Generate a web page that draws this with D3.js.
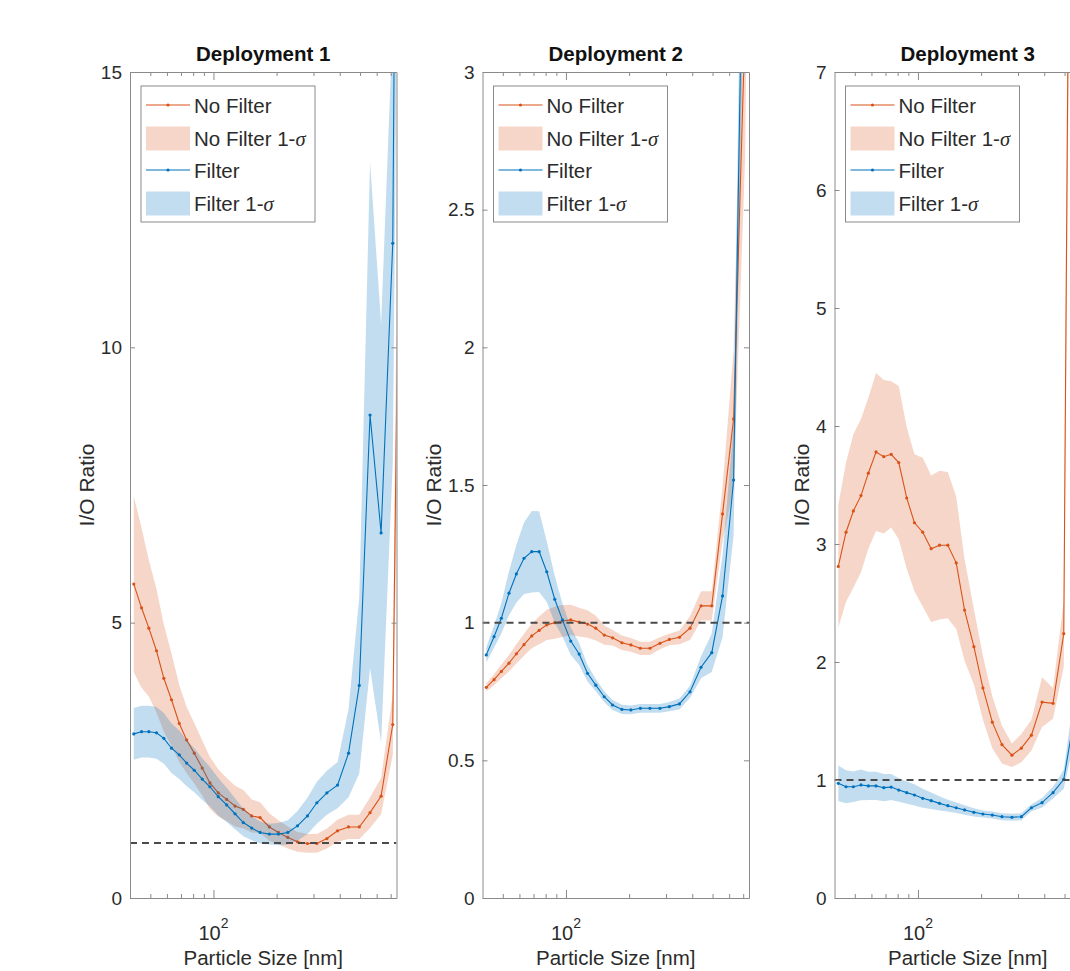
<!DOCTYPE html>
<html><head><meta charset="utf-8">
<script src="https://cdn.jsdelivr.net/npm/d3@7"></script>
<style>
body{margin:0;background:#fff;}
text{font-family:"Liberation Sans",Arial,Helvetica,sans-serif;}
</style>
</head><body>
<svg id="chart" width="1070" height="971"></svg>
<script>
// ---------- data ----------
const sizes = [41.7, 45.4, 49.2, 53.5, 58.0, 63.1, 68.7, 74.5, 81.0, 88.4, 96.2, 105.4, 115.6, 126.7, 138.8, 152.2, 166.8, 184.8, 204.0, 226.2, 251.5, 280.6, 311.2, 347.5, 390.5, 440.6, 495.7, 558, 630, 716, 810];

const titles = ["Deployment 1", "Deployment 2", "Deployment 3"];
const seriesNames = ["No Filter", "No Filter 1-", "Filter", "Filter 1-"];

const d1NoFilter   = [5.70, 5.27, 4.90, 4.49, 3.99, 3.60, 3.17, 2.87, 2.63, 2.36, 2.09, 1.91, 1.79, 1.67, 1.61, 1.49, 1.46, 1.29, 1.19, 1.10, 1.02, 0.99, 0.99, 1.08, 1.22, 1.29, 1.29, 1.55, 1.85, 3.15, 20];
const d1NoFilterSd = [1.6, 1.45, 1.24, 1.12, 0.97, 0.84, 0.7, 0.6, 0.55, 0.5, 0.47, 0.43, 0.39, 0.37, 0.35, 0.3, 0.28, 0.25, 0.22, 0.2, 0.18, 0.17, 0.17, 0.18, 0.2, 0.22, 0.22, 0.28, 0.33, 0.55, 5];
const d1Filter     = [2.98, 3.02, 3.02, 3.00, 2.90, 2.72, 2.60, 2.45, 2.32, 2.16, 2.02, 1.84, 1.69, 1.53, 1.37, 1.27, 1.19, 1.16, 1.16, 1.19, 1.31, 1.49, 1.73, 1.91, 2.05, 2.63, 3.86, 8.77, 6.63, 11.89, 40];
const d1FilterSd   = [0.47, 0.47, 0.47, 0.47, 0.46, 0.45, 0.44, 0.42, 0.4, 0.38, 0.36, 0.34, 0.31, 0.28, 0.25, 0.22, 0.2, 0.19, 0.2, 0.22, 0.27, 0.33, 0.38, 0.4, 0.42, 0.8, 1.6, 4.6, 3.8, 4.0, 10];

const d2NoFilter   = [0.765, 0.793, 0.823, 0.853, 0.887, 0.920, 0.952, 0.972, 0.992, 1.000, 1.006, 1.010, 1.002, 0.995, 0.980, 0.955, 0.945, 0.927, 0.919, 0.907, 0.907, 0.925, 0.939, 0.947, 0.980, 1.061, 1.061, 1.395, 1.74, 3.2, 8];
const d2NoFilterSd = [0.015, 0.02, 0.025, 0.03, 0.035, 0.04, 0.045, 0.05, 0.055, 0.058, 0.058, 0.055, 0.052, 0.05, 0.045, 0.035, 0.028, 0.026, 0.025, 0.024, 0.024, 0.022, 0.021, 0.025, 0.043, 0.053, 0.053, 0.1, 0.25, 0.5, 1];
const d2Filter     = [0.883, 0.949, 1.016, 1.107, 1.177, 1.234, 1.258, 1.258, 1.185, 1.085, 1.010, 0.933, 0.886, 0.816, 0.773, 0.731, 0.701, 0.685, 0.683, 0.689, 0.689, 0.689, 0.695, 0.705, 0.749, 0.838, 0.891, 1.097, 1.518, 4.1, 10];
const d2FilterSd   = [0.027, 0.04, 0.055, 0.08, 0.105, 0.13, 0.148, 0.147, 0.11, 0.085, 0.06, 0.05, 0.04, 0.03, 0.022, 0.02, 0.018, 0.017, 0.016, 0.016, 0.016, 0.016, 0.017, 0.02, 0.022, 0.04, 0.07, 0.15, 0.2, 0.5, 1];

const d3NoFilter   = [2.81, 3.10, 3.28, 3.41, 3.60, 3.78, 3.74, 3.76, 3.69, 3.39, 3.18, 3.10, 2.96, 2.99, 2.99, 2.84, 2.44, 2.13, 1.78, 1.49, 1.30, 1.21, 1.27, 1.38, 1.66, 1.65, 2.24, 15];
const d3NoFilterSd = [0.52, 0.59, 0.65, 0.65, 0.64, 0.67, 0.65, 0.62, 0.65, 0.6, 0.58, 0.63, 0.62, 0.63, 0.62, 0.56, 0.43, 0.32, 0.27, 0.22, 0.16, 0.1, 0.12, 0.13, 0.21, 0.13, 0.28, 2];
const d3Filter     = [0.972, 0.943, 0.943, 0.958, 0.95, 0.95, 0.935, 0.94, 0.915, 0.893, 0.873, 0.845, 0.825, 0.802, 0.782, 0.765, 0.746, 0.726, 0.712, 0.703, 0.689, 0.684, 0.689, 0.765, 0.808, 0.893, 1.006, 1.55];
const d3FilterSd   = [0.15, 0.14, 0.13, 0.13, 0.12, 0.12, 0.115, 0.11, 0.1, 0.095, 0.09, 0.08, 0.07, 0.06, 0.05, 0.045, 0.04, 0.035, 0.03, 0.03, 0.03, 0.03, 0.03, 0.03, 0.04, 0.05, 0.08, 0.2];

const yMax = [15, 3, 7];
const yTicks1 = [0, 5, 10, 15];
const yTicks2 = [0, 0.5, 1, 1.5, 2, 2.5, 3];
const yTicks3 = [0, 1, 2, 3, 4, 5, 6, 7];
const xDomain = [40, 746];
const xMajorTicks = [100];
const xMinorTicks = [50, 60, 70, 80, 90, 200, 300, 400, 500, 600, 700];
const refLine = [1];
const xLabel = "Particle Size [nm]";
const yLabel = "I/O Ratio";

// ---------- layout / style ----------
const plotLefts = [130, 482.5, 834.5];
const plotW = 266.5, plotTop = 72, plotBottom = 898;
const cOrange = "#D95319", cBlue = "#0072BD";
const fillAlpha = 0.24;
const axisColor = "#8a8a8a", textColor = "#2b2b2b";

const panels = [
  {nf: d1NoFilter, nfs: d1NoFilterSd, f: d1Filter, fs: d1FilterSd, yt: yTicks1},
  {nf: d2NoFilter, nfs: d2NoFilterSd, f: d2Filter, fs: d2FilterSd, yt: yTicks2},
  {nf: d3NoFilter, nfs: d3NoFilterSd, f: d3Filter, fs: d3FilterSd, yt: yTicks3}
];

const svg = d3.select("#chart");
const defs = svg.append("defs");

function styleAxis(g) {
  g.selectAll("path.domain").attr("stroke", axisColor).attr("stroke-width", 1);
  g.selectAll(".tick line").attr("stroke", axisColor).attr("stroke-width", 1);
  g.selectAll(".tick text").attr("fill", textColor).attr("font-size", 19)
    .attr("font-family", '"Liberation Sans", Arial, sans-serif');
  g.attr("font-family", null).attr("font-size", null);
}

panels.forEach((p, i) => {
  const left = plotLefts[i];
  const x = d3.scaleLog().domain(xDomain).range([left, left + plotW]);
  const y = d3.scaleLinear().domain([0, yMax[i]]).range([plotBottom, plotTop]);
  const g = svg.append("g");

  defs.append("clipPath").attr("id", "clip" + i)
    .append("rect").attr("x", left).attr("y", plotTop).attr("width", plotW).attr("height", plotBottom - plotTop);

  const plot = g.append("g").attr("clip-path", `url(#clip${i})`);

  const mk = (vals, sds) => vals.map((v, k) => ({s: sizes[k], v: v, sd: sds[k]}));
  const area = d3.area().x(d => x(d.s)).y0(d => y(d.v - d.sd)).y1(d => y(d.v + d.sd));
  const line = d3.line().x(d => x(d.s)).y(d => y(d.v));

  const drawSeries = (data, color) => {
    plot.append("path").datum(data).attr("d", area)
      .attr("fill", color).attr("fill-opacity", fillAlpha).attr("stroke", "none");
    plot.append("path").datum(data).attr("d", line)
      .attr("fill", "none").attr("stroke", color).attr("stroke-width", 1.1);
    plot.selectAll(null).data(data).enter().append("circle")
      .attr("cx", d => x(d.s)).attr("cy", d => y(d.v)).attr("r", 1.6).attr("fill", color);
  };
  drawSeries(mk(p.nf, p.nfs), cOrange);
  drawSeries(mk(p.f, p.fs), cBlue);

  // reference dashed line
  plot.selectAll(null).data(refLine).enter().append("line")
    .attr("x1", left).attr("x2", left + plotW)
    .attr("y1", d => y(d)).attr("y2", d => y(d))
    .attr("stroke", "#4a4a4a").attr("stroke-width", 2).attr("stroke-dasharray", "7,5");

  // axes (box with inward ticks)
  const fmt = d3.format("~g");
  const yl = g.append("g").attr("transform", `translate(${left},0)`)
    .call(d3.axisLeft(y).tickValues(p.yt).tickFormat(fmt).tickSize(-5).tickSizeOuter(0).tickPadding(8));
  styleAxis(yl);
  const yr = g.append("g").attr("transform", `translate(${left + plotW},0)`)
    .call(d3.axisRight(y).tickValues(p.yt).tickFormat("").tickSize(-5).tickSizeOuter(0));
  styleAxis(yr);

  const xbMin = g.append("g").attr("transform", `translate(0,${plotBottom})`)
    .call(d3.axisBottom(x).tickValues(xMinorTicks).tickFormat("").tickSize(-4).tickSizeOuter(0));
  styleAxis(xbMin);
  const xbMaj = g.append("g").attr("transform", `translate(0,${plotBottom})`)
    .call(d3.axisBottom(x).tickValues(xMajorTicks).tickFormat("").tickSize(-8).tickSizeOuter(0));
  styleAxis(xbMaj);
  xbMaj.select("path.domain").remove();
  const xtMin = g.append("g").attr("transform", `translate(0,${plotTop})`)
    .call(d3.axisTop(x).tickValues(xMinorTicks).tickFormat("").tickSize(-4).tickSizeOuter(0));
  styleAxis(xtMin);
  const xtMaj = g.append("g").attr("transform", `translate(0,${plotTop})`)
    .call(d3.axisTop(x).tickValues(xMajorTicks).tickFormat("").tickSize(-8).tickSizeOuter(0));
  styleAxis(xtMaj);
  xtMaj.select("path.domain").remove();

  // 10^2 labels
  g.selectAll(null).data(xMajorTicks).enter().append("text")
    .attr("x", d => x(d)).attr("y", 940).attr("text-anchor", "middle")
    .attr("fill", textColor).attr("font-size", 20)
    .each(function(d) {
      const t = d3.select(this);
      t.append("tspan").text("10");
      t.append("tspan").attr("dy", -12).attr("font-size", 14).text(Math.round(Math.log10(d)));
    });

  // titles
  g.append("text").attr("x", left + plotW / 2).attr("y", 61).attr("text-anchor", "middle")
    .attr("font-weight", "bold").attr("font-size", 20.5).attr("fill", "#111").text(titles[i]);

  // x label
  g.append("text").attr("x", left + plotW / 2).attr("y", 965).attr("text-anchor", "middle")
    .attr("font-size", 20.5).attr("fill", textColor).text(xLabel);

  // y label (placed left of the tick labels)
  const bb = yl.node().getBBox();
  const ylx = left + bb.x - 7;
  g.append("text").attr("transform", `translate(${ylx},${(plotTop + plotBottom) / 2}) rotate(-90)`)
    .attr("text-anchor", "middle").attr("font-size", 21).attr("fill", textColor).text(yLabel);

  // legend
  const lg = g.append("g").attr("transform", `translate(${left + 11},86)`);
  lg.append("rect").attr("width", 174).attr("height", 136)
    .attr("fill", "#fff").attr("stroke", "#8a8a8a").attr("stroke-width", 1);
  const rows = [
    {name: seriesNames[0], color: cOrange, type: "line"},
    {name: seriesNames[1], color: cOrange, type: "patch"},
    {name: seriesNames[2], color: cBlue, type: "line"},
    {name: seriesNames[3], color: cBlue, type: "patch"}
  ];
  rows.forEach((r, k) => {
    const cy = 20 + k * 32.5;
    if (r.type === "line") {
      lg.append("line").attr("x1", 5).attr("x2", 49).attr("y1", cy - 1).attr("y2", cy - 1)
        .attr("stroke", r.color).attr("stroke-width", 1.1);
      lg.append("circle").attr("cx", 27).attr("cy", cy - 1).attr("r", 1.6).attr("fill", r.color);
    } else {
      lg.append("rect").attr("x", 5).attr("y", cy - 12).attr("width", 44).attr("height", 24)
        .attr("fill", r.color).attr("fill-opacity", fillAlpha);
    }
    const t = lg.append("text").attr("x", 53).attr("y", cy + 7)
      .attr("font-size", 20.5).attr("fill", textColor);
    t.append("tspan").text(r.name);
    if (r.type === "patch") {
      t.append("tspan").attr("font-family", '"Liberation Serif", "DejaVu Serif", serif')
        .attr("font-style", "italic").text("σ");
    }
  });
});
</script>
</body></html>
